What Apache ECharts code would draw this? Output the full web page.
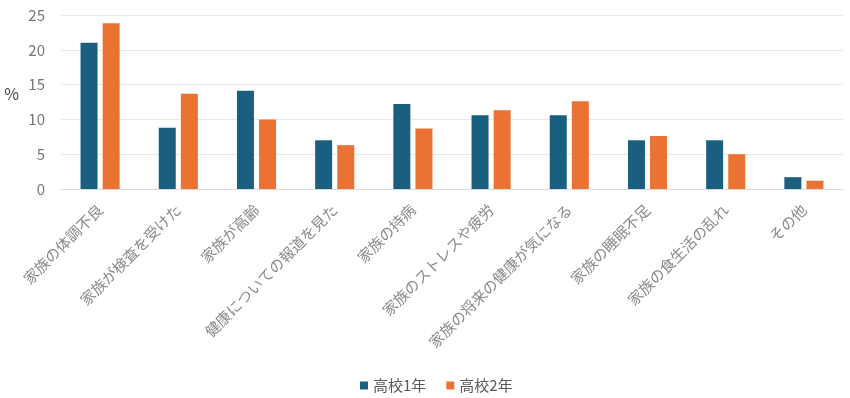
<!DOCTYPE html>
<html>
<head>
<meta charset="utf-8">
<script src="https://cdn.jsdelivr.net/npm/echarts@6/dist/echarts.min.js"></script>
<style>
  html, body { margin: 0; padding: 0; background: #fff; }
  #chart { width: 850px; height: 398px; }
</style>
</head>
<body>
<div id="chart"></div>
<script>
// 項目
var categories = [
  "家族の体調不良", "家族が検査を受けた", "家族が高齢", "健康についての報道を見た",
  "家族の持病", "家族のストレスや疲労", "家族の将来の健康が気になる",
  "家族の睡眠不足", "家族の食生活の乱れ", "その他"
];
// 高校1年 (%)
var grade1 = [21.0, 8.8, 14.1, 7.0, 12.2, 10.6, 10.6, 7.0, 7.0, 1.7];
// 高校2年 (%)
var grade2 = [23.8, 13.7, 10.0, 6.3, 8.7, 11.3, 12.6, 7.6, 5.0, 1.2];
var yTicks = [0, 5, 10, 15, 20, 25];

var font = '"Noto Sans CJK JP", "Noto Sans", sans-serif';
var myChart = echarts.init(document.getElementById("chart"));
myChart.setOption({
  animation: false,
  textStyle: { fontFamily: font },
  grid: { left: 61, right: 7, top: 15, bottom: 209 },
  legend: {
    bottom: 0,
    left: 355,
    itemWidth: 8,
    itemHeight: 8,
    itemGap: 20,
    icon: "rect",
    textStyle: { color: "#595959", fontSize: 15, fontFamily: font }
  },
  xAxis: {
    type: "category",
    data: categories,
    axisTick: { show: false },
    axisLine: { lineStyle: { color: "#d9d9d9" } },
    axisLabel: {
      rotate: 45,
      interval: 0,
      margin: 18,
      color: "#8a8a8a",
      fontSize: 15,
      fontFamily: font
    }
  },
  yAxis: {
    type: "value",
    min: yTicks[0],
    max: yTicks[yTicks.length - 1],
    interval: 5,
    name: "%",
    nameLocation: "middle",
    nameRotate: 0,
    nameGap: 42,
    nameTextStyle: { color: "#404040", fontSize: 16, fontFamily: font, verticalAlign: "bottom" },
    axisLine: { show: false },
    axisTick: { show: false },
    splitLine: { lineStyle: { color: "#e8e8e8", width: 1 } },
    axisLabel: { color: "#767676", fontSize: 15, margin: 16, fontFamily: font }
  },
  series: [
    {
      name: "高校1年",
      type: "bar",
      data: grade1,
      barWidth: 17,
      barGap: "30%",
      itemStyle: { color: "#1a5f7f" }
    },
    {
      name: "高校2年",
      type: "bar",
      data: grade2,
      barWidth: 17,
      itemStyle: { color: "#ea7233" }
    }
  ]
});
</script>
</body>
</html>
